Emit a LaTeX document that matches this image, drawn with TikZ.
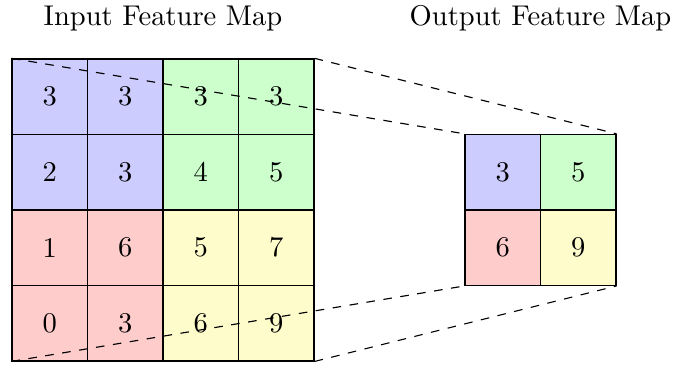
\documentclass[tikz,border=0pt]{standalone}
\tikzset{
  cell/.style={minimum size=26.43pt, inner sep=0pt, anchor=center},
  bl/.style={cell, fill=blue!20},
  gr/.style={cell, fill=green!20},
  rd/.style={cell, fill=red!20},
  yl/.style={cell, fill=yellow!20},
  edge/.style={draw=black, line width=0.45pt, step=26.43pt},
  guide/.style={dashed, line width=0.4pt},
  title/.style={inner sep=0pt}
}
\begin{document}
\begin{tikzpicture}[x=26.43pt, y=26.43pt]
\useasboundingbox (-0.159,-0.053) rectangle (8.795,4.78);
% titles
\node[title] (tin) at (2,4.54) {Input Feature Map};
\node[title] (tout) at (7,4.54) {Output Feature Map};
% input grid
\node[bl] (i11) at (0.5,3.5) {3};
\node[bl] (i12) at (1.5,3.5) {3};
\node[gr] (i13) at (2.5,3.5) {3};
\node[gr] (i14) at (3.5,3.5) {3};
\node[bl] (i21) at (0.5,2.5) {2};
\node[bl] (i22) at (1.5,2.5) {3};
\node[gr] (i23) at (2.5,2.5) {4};
\node[gr] (i24) at (3.5,2.5) {5};
\node[rd] (i31) at (0.5,1.5) {1};
\node[rd] (i32) at (1.5,1.5) {6};
\node[yl] (i33) at (2.5,1.5) {5};
\node[yl] (i34) at (3.5,1.5) {7};
\node[rd] (i41) at (0.5,0.5) {0};
\node[rd] (i42) at (1.5,0.5) {3};
\node[yl] (i43) at (2.5,0.5) {6};
\node[yl] (i44) at (3.5,0.5) {9};
% output grid
\node[bl] (o11) at (6.5,2.5) {3};
\node[gr] (o12) at (7.5,2.5) {5};
\node[rd] (o21) at (6.5,1.5) {6};
\node[yl] (o22) at (7.5,1.5) {9};
% cell borders
\draw[edge] (i41.south west) grid (i14.north east);
\draw[edge] (o21.south west) grid (o12.north east);
% projection lines
\draw[guide] (i11.north west) -- (o11.north west);
\draw[guide] (i14.north east) -- (o12.north east);
\draw[guide] (i41.south west) -- (o21.south west);
\draw[guide] (i44.south east) -- (o22.south east);
\end{tikzpicture}
\end{document}
